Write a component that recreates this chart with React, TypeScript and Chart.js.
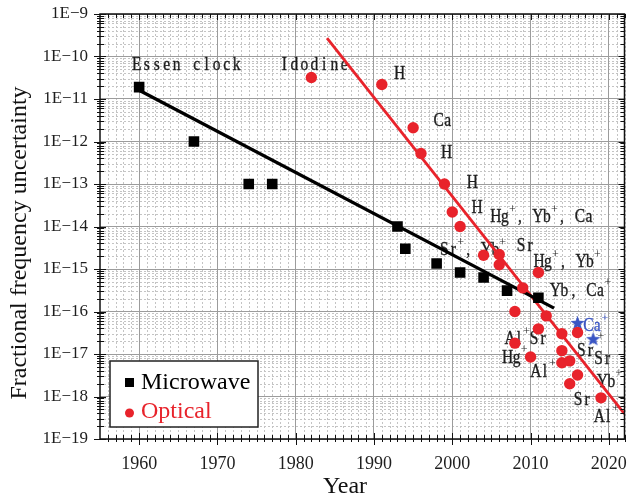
import React, { useEffect, useRef } from "react";
import { Chart, registerables } from "chart.js";
Chart.register(...registerables);

// ---------- data ----------
const microwaveYears = [1960, 1967, 1974, 1977, 1993, 1994, 1998, 2001, 2004, 2007, 2011];
const microwaveValues = [1.9e-11, 1e-12, 1e-13, 1e-13, 1e-14, 3e-15, 1.35e-15, 8.3e-16, 6.3e-16, 3.1e-16, 2.1e-16];

const opticalYears = [1982, 1991, 1995, 1996, 1999, 2000, 2001, 2004, 2006, 2006, 2011, 2009, 2008, 2012, 2011, 2008, 2010, 2014, 2016, 2014, 2014, 2015, 2016, 2015, 2019];
const opticalValues = [3.2e-11, 2.2e-11, 2.1e-12, 5.2e-13, 1e-13, 2.2e-14, 1e-14, 2.1e-15, 2.2e-15, 1.26e-15, 8.3e-16, 3.6e-16, 1e-16, 7.9e-17, 3.9e-17, 1.8e-17, 8.5e-18, 3e-17, 3.2e-17, 1.2e-17, 6.2e-18, 6.9e-18, 3.2e-18, 2e-18, 9.3e-19];

const starYears = [2016, 2018];
const starValues = [5.5e-17, 2.3e-17];

const microwaveFitYears = [1960, 2013];
const microwaveFitValues = [1.6e-11, 1.2e-16];
const opticalFitYears = [1984, 2022];
const opticalFitValues = [2.7e-10, 3.9e-19];

const xTicks = [1960, 1970, 1980, 1990, 2000, 2010, 2020];
const xTickLabels = ["1960", "1970", "1980", "1990", "2000", "2010", "2020"];
const yTicks = [1e-19, 1e-18, 1e-17, 1e-16, 1e-15, 1e-14, 1e-13, 1e-12, 1e-11, 1e-10, 1e-9];
const yTickLabels = ["1E\u221219", "1E\u221218", "1E\u221217", "1E\u221216", "1E\u221215", "1E\u221214", "1E\u221213", "1E\u221212", "1E\u221211", "1E\u221210", "1E\u22129"];

// annotations ("^" marks a superscript character)
const labelTexts = ["Essen clock", "Idodine", "H", "Ca", "H", "H", "H", "Hg^+, Yb^+, Ca", "Sr^+, Yb^+", "Sr", "Hg^+, Yb^+", "Yb, Ca^+", "Al^+Sr", "Hg^+", "Al^+", "Sr", "^+", "Sr", "Yb^+", "Sr", "Al^+"];
const labelYears = [1959.05, 1977.9, 1992.7, 1997.7, 1998.7, 2002.0, 2002.6, 2005.0, 1998.4, 2008.2, 2010.5, 2012.6, 2006.8, 2006.5, 2010.1, 2015.9, 2018.6, 2018.1, 2018.6, 2015.5, 2018.2];
const labelValues = [6.6e-11, 6.6e-11, 4.1e-11, 3.2e-12, 5.6e-13, 1.1e-13, 2.9e-14, 1.7e-14, 2.9e-15, 3.6e-15, 1.5e-15, 3.2e-16, 2.3e-17, 8.5e-18, 4e-18, 1.2e-17, 1.74e-17, 7.8e-18, 2.3e-18, 8.7e-19, 3.5e-19];
const blueLabelText = "Ca^+";
const blueLabelYear = 2016.8;
const blueLabelValue = 4.7e-17;

// ---------- styles ----------
const RED = "#e8232b";
const BLUE = "#3a55c4";
const BLACK = "#000000";
const TEXT = "#1e1e1e";
const SERIF = '"Liberation Serif", "Times New Roman", serif';
const WIDE_LABELS = new Set(["Essen clock", "Idodine"]);

function makeStar(size: number, color: string) {
  const c = document.createElement("canvas");
  c.width = size;
  c.height = size;
  const g = c.getContext("2d")!;
  g.fillStyle = color;
  g.beginPath();
  const cx = size / 2, cy = size / 2 + 0.8, R = size / 2, r = R * 0.42;
  for (let i = 0; i < 10; i++) {
    const a = -Math.PI / 2 + (i * Math.PI) / 5;
    const rr = i % 2 ? r : R;
    g.lineTo(cx + rr * Math.cos(a), cy + rr * Math.sin(a));
  }
  g.closePath();
  g.fill();
  return c;
}

function drawMono(ctx: CanvasRenderingContext2D, text: string, x: number, y: number, cell: number, color: string) {
  ctx.save();
  ctx.fillStyle = color;
  ctx.strokeStyle = color;
  ctx.lineWidth = 0.35;
  ctx.textBaseline = "middle";
  ctx.textAlign = "center";
  let cx = x;
  for (let i = 0; i < text.length; i++) {
    let ch = text[i];
    let sup = false;
    if (ch === "^") {
      sup = true;
      ch = text[++i];
    }
    if (sup) {
      ctx.font = `12px ${SERIF}`;
      ctx.fillText(ch, cx + 3, y - 7);
      cx += 6;
    } else {
      ctx.save();
      ctx.translate(cx + cell / 2, y + 1);
      ctx.scale(0.86, 1);
      ctx.font = `18px ${SERIF}`;
      ctx.fillText(ch, 0, 0);
      ctx.strokeText(ch, 0, 0);
      ctx.restore();
      cx += cell;
    }
  }
  ctx.restore();
}

const decorPlugin = {
  id: "decor",
  beforeDraw(chart: any) {
    const { ctx, chartArea: a, scales } = chart;
    const xs = scales.x, ys = scales.y;
    ctx.save();
    ctx.strokeStyle = "#c4c4c4";
    ctx.lineWidth = 1;
    ctx.setLineDash([2, 2]);
    for (let yr = 1956; yr <= 2022; yr++) {
      if (yr % 10 === 0) continue;
      const px = Math.round(xs.getPixelForValue(yr)) + 0.5;
      ctx.beginPath();
      ctx.moveTo(px, a.top);
      ctx.lineTo(px, a.bottom);
      ctx.stroke();
    }
    for (let e = -19; e < -9; e++) {
      for (let m = 2; m <= 9; m++) {
        const py = Math.round(ys.getPixelForValue(m * Math.pow(10, e))) + 0.5;
        ctx.beginPath();
        ctx.moveTo(a.left, py);
        ctx.lineTo(a.right, py);
        ctx.stroke();
      }
    }
    ctx.restore();
  },
  beforeDatasetsDraw(chart: any) {
    const { ctx, scales } = chart;
    const xs = scales.x, ys = scales.y;
    ctx.save();
    labelTexts.forEach((t, i) => {
      const px = xs.getPixelForValue(labelYears[i]);
      const py = ys.getPixelForValue(labelValues[i]);
      drawMono(ctx, t, px, py, WIDE_LABELS.has(t) ? 10 : 9, TEXT);
    });
    drawMono(ctx, blueLabelText, xs.getPixelForValue(blueLabelYear), ys.getPixelForValue(blueLabelValue), 9, BLUE);
    ctx.restore();
  },
  afterDraw(chart: any) {
    const { ctx, chartArea: a, scales } = chart;
    const xs = scales.x, ys = scales.y;
    ctx.save();
    // ticks
    ctx.strokeStyle = "#111";
    ctx.lineWidth = 1;
    for (let yr = 1956; yr <= 2022; yr++) {
      const px = Math.round(xs.getPixelForValue(yr)) + 0.5;
      const major = yr % 10 === 0;
      ctx.beginPath();
      ctx.moveTo(px, a.bottom - (major ? 6 : 4));
      ctx.lineTo(px, a.bottom + (major ? 6 : 3));
      ctx.moveTo(px, a.top);
      ctx.lineTo(px, a.top + (major ? 6 : 4));
      ctx.stroke();
    }
    for (let e = -19; e <= -9; e++) {
      for (let m = 1; m <= 9; m++) {
        if (e === -9 && m > 1) break;
        const py = Math.round(ys.getPixelForValue(m * Math.pow(10, e))) + 0.5;
        const major = m === 1;
        ctx.beginPath();
        ctx.moveTo(a.left - (major ? 6 : 3), py);
        ctx.lineTo(a.left + (major ? 6 : 4), py);
        ctx.moveTo(a.right - (major ? 6 : 4), py);
        ctx.lineTo(a.right, py);
        ctx.stroke();
      }
    }
    // frame
    ctx.lineWidth = 1.5;
    ctx.strokeStyle = "#111";
    ctx.strokeRect(a.left, a.top, a.right - a.left, a.bottom - a.top);

    // legend
    const lx = 110, ly = 361, lw = 148, lh = 66;
    ctx.fillStyle = "#fff";
    ctx.fillRect(lx, ly, lw, lh);
    ctx.lineWidth = 1.5;
    ctx.strokeStyle = "#222";
    ctx.strokeRect(lx, ly, lw, lh);
    ctx.fillStyle = BLACK;
    ctx.fillRect(125, 378, 9, 9);
    ctx.fillStyle = RED;
    ctx.beginPath();
    ctx.arc(129.5, 413, 4.5, 0, Math.PI * 2);
    ctx.fill();
    ctx.font = `24px ${SERIF}`;
    ctx.textBaseline = "middle";
    ctx.textAlign = "left";
    ctx.fillStyle = BLACK;
    ctx.fillText(chart.data.datasets[0].label, 141, 383);
    ctx.fillStyle = RED;
    ctx.fillText(chart.data.datasets[1].label, 141, 412);

    // axis titles
    ctx.fillStyle = "#111";
    ctx.textAlign = "center";
    ctx.font = `24px ${SERIF}`;
    ctx.fillText("Year", 345, 487);
    ctx.translate(20, 243);
    ctx.rotate(-Math.PI / 2);
    ctx.fillText("Fractional frequency uncertainty", 0, 0);
    ctx.restore();
  },
};

function noPad(s: any) {
  s.paddingLeft = 0;
  s.paddingRight = 0;
  s.paddingTop = 0;
  s.paddingBottom = 0;
}

export default function App() {
  const ref = useRef<HTMLCanvasElement>(null);
  useEffect(() => {
    const star = makeStar(15, BLUE);
    const chart = new Chart(ref.current!, {
      type: "scatter",
      data: {
        datasets: [
          {
            label: "Microwave",
            data: microwaveYears.map((x, i) => ({ x, y: microwaveValues[i] })),
            pointStyle: "rect",
            pointRadius: 7.5,
            backgroundColor: BLACK,
            borderWidth: 0,
          },
          {
            label: "Optical",
            data: opticalYears.map((x, i) => ({ x, y: opticalValues[i] })),
            pointStyle: "circle",
            pointRadius: 5.7,
            backgroundColor: RED,
            borderWidth: 0,
          },
          {
            label: "Stars",
            data: starYears.map((x, i) => ({ x, y: starValues[i] })),
            pointStyle: star as any,
            pointRadius: 7,
            backgroundColor: BLUE,
            borderWidth: 0,
          },
          {
            label: "Microwave fit",
            data: microwaveFitYears.map((x, i) => ({ x, y: microwaveFitValues[i] })),
            showLine: true,
            pointRadius: 0,
            borderColor: BLACK,
            borderWidth: 3.3,
          },
          {
            label: "Optical fit",
            data: opticalFitYears.map((x, i) => ({ x, y: opticalFitValues[i] })),
            showLine: true,
            pointRadius: 0,
            borderColor: RED,
            borderWidth: 2.8,
          },
        ],
      },
      options: {
        animation: false,
        responsive: false,
        events: [],
        layout: { padding: { top: 14, right: 3, left: 0, bottom: 0 } },
        plugins: { legend: { display: false }, tooltip: { enabled: false } },
        scales: {
          x: {
            type: "linear",
            min: 1955,
            max: 2022,
            afterBuildTicks: (s: any) => {
              s.ticks = xTicks.map((v) => ({ value: v }));
            },
            afterFit: (s: any) => {
              s.height = 59;
              noPad(s);
            },
            grid: { color: "#9c9c9c", lineWidth: 1, drawTicks: false },
            border: { display: false },
            ticks: {
              padding: 14,
              color: TEXT,
              font: { family: SERIF, size: 18 },
              maxRotation: 0,
              autoSkip: false,
              callback: (_v: any, i: number) => xTickLabels[i],
            },
          },
          y: {
            type: "logarithmic",
            min: 1e-19,
            max: 1e-9,
            afterBuildTicks: (s: any) => {
              s.ticks = yTicks.map((v) => ({ value: v, major: true }));
            },
            afterFit: (s: any) => {
              s.width = 100;
              noPad(s);
            },
            grid: { color: "#9c9c9c", lineWidth: 1, drawTicks: false },
            border: { display: false },
            ticks: {
              padding: 12,
              color: TEXT,
              font: { family: SERIF, size: 17 },
              autoSkip: false,
              callback: (_v: any, i: number) => yTickLabels[i],
            },
          },
        },
      },
      plugins: [decorPlugin],
    });
    return () => chart.destroy();
  }, []);
  return (
    <div style={{ position: "fixed", left: 0, top: 0, width: 632, height: 498, background: "#fff" }}>
      <canvas ref={ref} width={632} height={498} style={{ width: 632, height: 498, display: "block" }} />
    </div>
  );
}
